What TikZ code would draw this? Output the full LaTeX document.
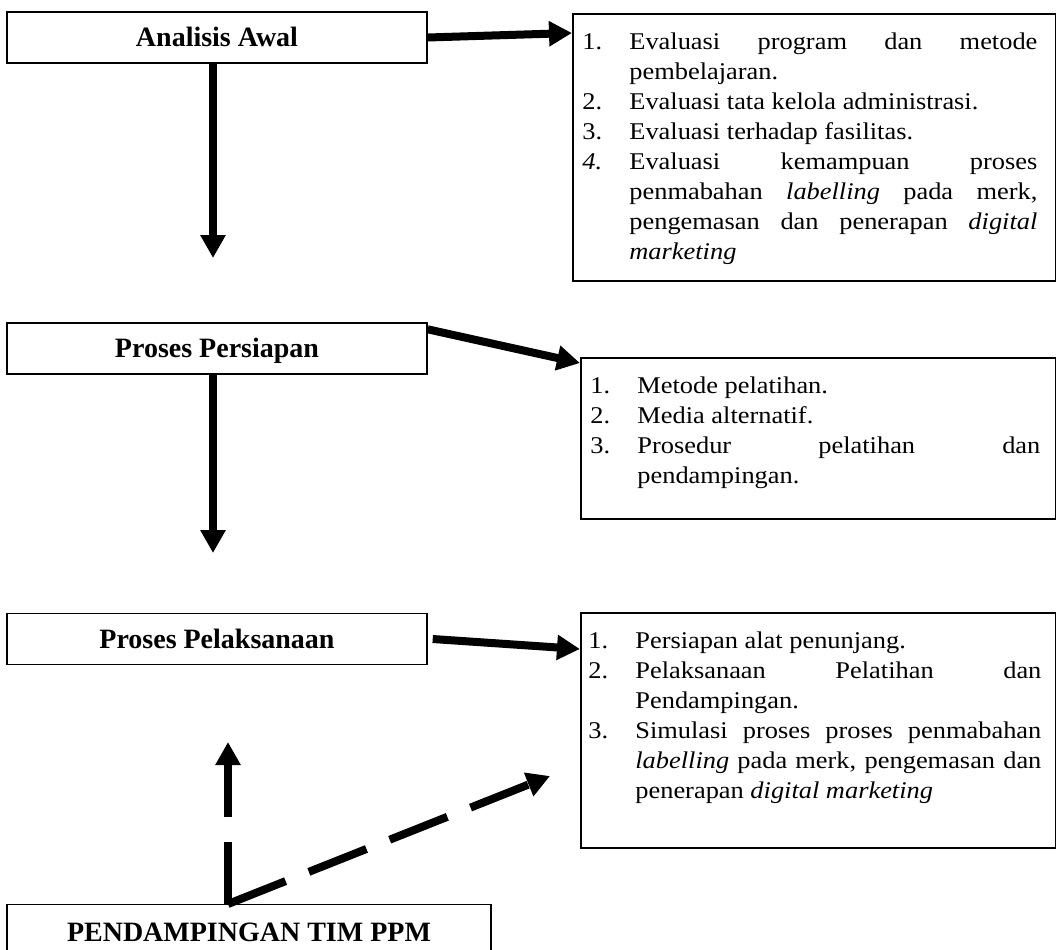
\documentclass[tikz,border=0pt]{standalone}
\usepackage{fontspec}
\setmainfont{Liberation Serif}
\newfontfamily\listfont{Liberation Serif}[FakeStretch=1.1]
\usetikzlibrary{arrows.meta, positioning, calc}

\tolerance=10000
\hyphenpenalty=10000
\newcommand{\numitem}[2]{\hangindent=23.5pt\hangafter=1\noindent\makebox[23.5pt][l]{#1}#2\par}

\begin{document}
\begin{tikzpicture}[x=0.5pt, y=-0.5pt,
    stagebox/.style={
        draw=black, line width=0.7pt, minimum width=210pt, minimum height=25.5pt,
        text height=9.3pt, text depth=0pt, inner sep=0pt,
        font=\fontsize{14}{16}\selectfont\bfseries, align=center
    },
    listframe/.style={draw=black, line width=0.8pt, anchor=north west, inner sep=0pt},
    listtext/.style={
        anchor=base west, inner sep=0pt, align=justify,
        font=\listfont\fontsize{12}{15}\selectfont
    },
    arrow/.style={-{Triangle[length=11.5pt, width=12pt]}, line width=4pt},
    dasharrow/.style={arrow, dash pattern=on 31pt off 12.5pt}
]
\clip (0,0) rectangle (1056,949);

% Stages
\node[stagebox] (s1) at (217,37.5) {Analisis Awal};
\node[stagebox] (s2) at (217,348.5) {Proses Persiapan};
\node[stagebox] (s3) at (217,639) {Proses Pelaksanaan};
\node[stagebox, minimum width=242pt, minimum height=27pt, anchor=north] (s4) at (249,904) {PENDAMPINGAN TIM PPM};

% List frames
\node[listframe, minimum width=241.5pt, minimum height=133.5pt] (r1) at (572,13) {};
\node[listframe, minimum width=237.5pt, minimum height=80.5pt] (r2) at (580,357) {};
\node[listframe, minimum width=237.5pt, minimum height=117.5pt] (r3) at (580,612) {};

% List texts
\node[listtext, text width=227.5pt] (t1) at (582,49) {%
  \numitem{1.}{Evaluasi program dan metode\linebreak pembelajaran.}%
  \numitem{2.}{Evaluasi tata kelola administrasi.}%
  \numitem{3.}{Evaluasi terhadap fasilitas.}%
  \numitem{\textit{4.}}{Evaluasi kemampuan proses\linebreak penmabahan \textit{labelling} pada merk,\linebreak pengemasan dan penerapan \textit{digital}\linebreak \textit{marketing}}};
\node[listtext, text width=225pt] (t2) at (590,393) {%
  \numitem{1.}{Metode pelatihan.}%
  \numitem{2.}{Media alternatif.}%
  \numitem{3.}{Prosedur pelatihan dan\linebreak pendampingan.}};
\node[listtext, text width=226.5pt] (t3) at (588,648) {%
  \numitem{1.}{Persiapan alat penunjang.}%
  \numitem{2.}{Pelaksanaan Pelatihan dan\linebreak Pendampingan.}%
  \numitem{3.}{Simulasi proses proses penmabahan\linebreak \textit{labelling} pada merk, pengemasan dan\linebreak penerapan \textit{digital marketing}}};

% Arrows: stage to list
\draw[arrow] (s1.east) -- ([yshift=-10pt]r1.north west);
\draw[arrow] ([yshift=-3.5pt]s2.north east) -- ([yshift=-3pt]r2.north west);
\draw[arrow] ([xshift=2.5pt]s3.east) -- ([yshift=-18.5pt]r3.north west);

% Arrows: stage downwards
\coordinate (d1) at (213,258);
\coordinate (d2) at (213,553);
\draw[arrow] ([xshift=-2pt]s1.south) -- (d1);
\draw[arrow] ([xshift=-2pt]s2.south) -- (d2);

% Support arrows (dashed)
\coordinate (o) at ([xshift=-10.5pt]s4.north);
\coordinate (u1) at (228,742);
\coordinate (u2) at (550,776);
\draw[dasharrow] (o) -- (u1);
\draw[dasharrow] (o) -- (u2);

\end{tikzpicture}
\end{document}
